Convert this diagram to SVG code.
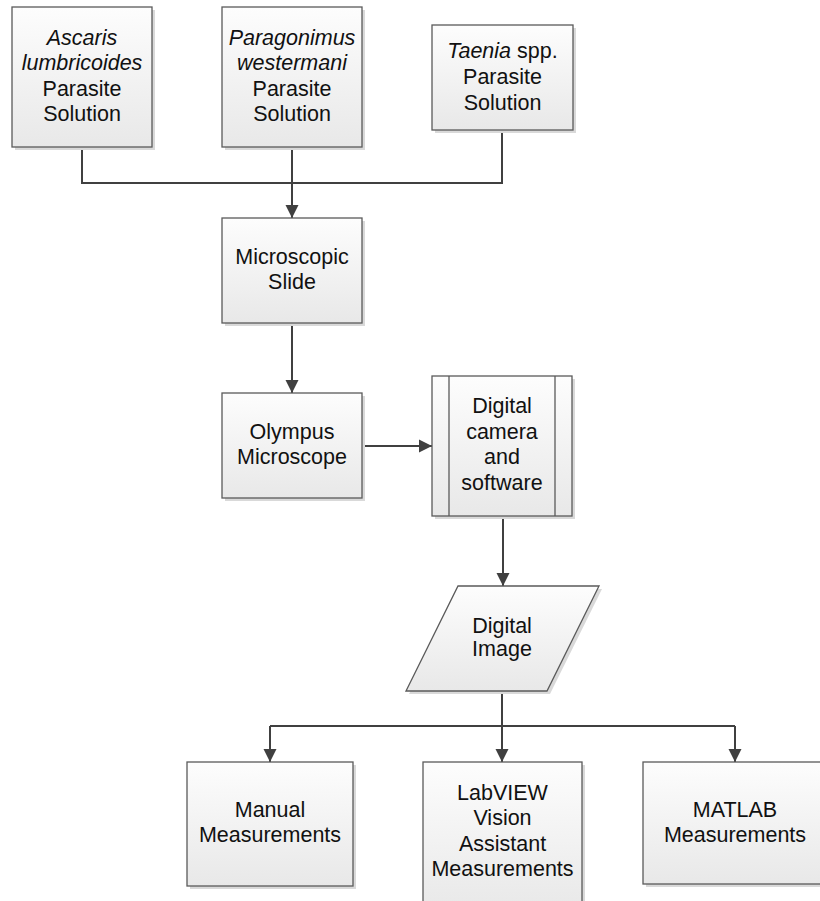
<svg xmlns="http://www.w3.org/2000/svg" width="820" height="901" viewBox="0 0 820 901">
<style>
.box{fill:url(#g);stroke:#5a5a5a;stroke-width:1.3}
.sh{fill:#d9d9d9}
.t{font-family:"Liberation Sans",Arial,sans-serif;font-size:21.5px;fill:#111;text-anchor:middle}
.i{font-style:italic}
.c{fill:none;stroke:#404040;stroke-width:2}
.a{marker-end:url(#arr)}
</style>
<defs>
<linearGradient id="g" x1="0" y1="0" x2="0" y2="1">
<stop offset="0" stop-color="#fdfdfd"/>
<stop offset="1" stop-color="#e8e8e8"/>
</linearGradient>
<marker id="arr" markerUnits="userSpaceOnUse" markerWidth="14" markerHeight="14" viewBox="0 0 14 14" refX="13" refY="7" orient="auto">
<path d="M0,0.5 L13,7 L0,13.5 Z" fill="#404040"/>
</marker>
</defs>
<g id="connectors">
<path class="c" d="M82,147 V183 H502 V130"/>
<path class="c a" d="M292,147 V218"/>
<path class="c a" d="M292,323 V393"/>
<path class="c a" d="M362,446 H432"/>
<path class="c a" d="M503,516 V586"/>
<path class="c" d="M270,726 H735"/>
<path class="c a" d="M502,691 V762"/>
<path class="c a" d="M270,726 V762"/>
<path class="c a" d="M735,726 V762"/>
</g>
<g id="ascaris">
<rect class="sh" x="15" y="10" width="140" height="140"/>
<rect class="box" x="12" y="7" width="140" height="140"/>
<text class="t i" x="82" y="45">Ascaris</text>
<text class="t i" x="82" y="70">lumbricoides</text>
<text class="t" x="82" y="96">Parasite</text>
<text class="t" x="82" y="121">Solution</text>
</g>
<g id="paragonimus">
<rect class="sh" x="225" y="10" width="140" height="140"/>
<rect class="box" x="222" y="7" width="140" height="140"/>
<text class="t i" x="292" y="45">Paragonimus</text>
<text class="t i" x="292" y="70">westermani</text>
<text class="t" x="292" y="96">Parasite</text>
<text class="t" x="292" y="121">Solution</text>
</g>
<g id="taenia">
<rect class="sh" x="435" y="28" width="141" height="105"/>
<rect class="box" x="432" y="25" width="141" height="105"/>
<text class="t" x="502.5" y="58"><tspan class="i">Taenia</tspan> spp.</text>
<text class="t" x="502.5" y="84">Parasite</text>
<text class="t" x="502.5" y="110">Solution</text>
</g>
<g id="slide">
<rect class="sh" x="225" y="221" width="140" height="105"/>
<rect class="box" x="222" y="218" width="140" height="105"/>
<text class="t" x="292" y="264">Microscopic</text>
<text class="t" x="292" y="289">Slide</text>
</g>
<g id="olympus">
<rect class="sh" x="225" y="396" width="140" height="105"/>
<rect class="box" x="222" y="393" width="140" height="105"/>
<text class="t" x="292" y="439">Olympus</text>
<text class="t" x="292" y="464">Microscope</text>
</g>
<g id="camera">
<rect class="sh" x="435" y="379" width="140" height="140"/>
<rect class="box" x="432" y="376" width="140" height="140"/>
<line x1="449" y1="376" x2="449" y2="516" stroke="#5a5a5a" stroke-width="1.3"/>
<line x1="555" y1="376" x2="555" y2="516" stroke="#5a5a5a" stroke-width="1.3"/>
<text class="t" x="502" y="413">Digital</text>
<text class="t" x="502" y="439">camera</text>
<text class="t" x="502" y="464">and</text>
<text class="t" x="502" y="490">software</text>
</g>
<g id="image">
<polygon class="sh" points="461,589 602,589 550,694 409,694"/>
<polygon class="box" points="458,586 599,586 547,691 406,691"/>
<text class="t" x="502" y="633">Digital</text>
<text class="t" x="502" y="656">Image</text>
</g>
<g id="manual">
<rect class="sh" x="190" y="765" width="166" height="124"/>
<rect class="box" x="187" y="762" width="166" height="124"/>
<text class="t" x="270" y="817">Manual</text>
<text class="t" x="270" y="842">Measurements</text>
</g>
<g id="labview">
<rect class="sh" x="426" y="765" width="159" height="150"/>
<rect class="box" x="423" y="762" width="159" height="150"/>
<text class="t" x="502.5" y="800">LabVIEW</text>
<text class="t" x="502.5" y="825">Vision</text>
<text class="t" x="502.5" y="851">Assistant</text>
<text class="t" x="502.5" y="876">Measurements</text>
</g>
<g id="matlab">
<rect class="sh" x="646" y="765" width="184" height="122"/>
<rect class="box" x="643" y="762" width="184" height="122"/>
<text class="t" x="735" y="817">MATLAB</text>
<text class="t" x="735" y="842">Measurements</text>
</g>
</svg>
